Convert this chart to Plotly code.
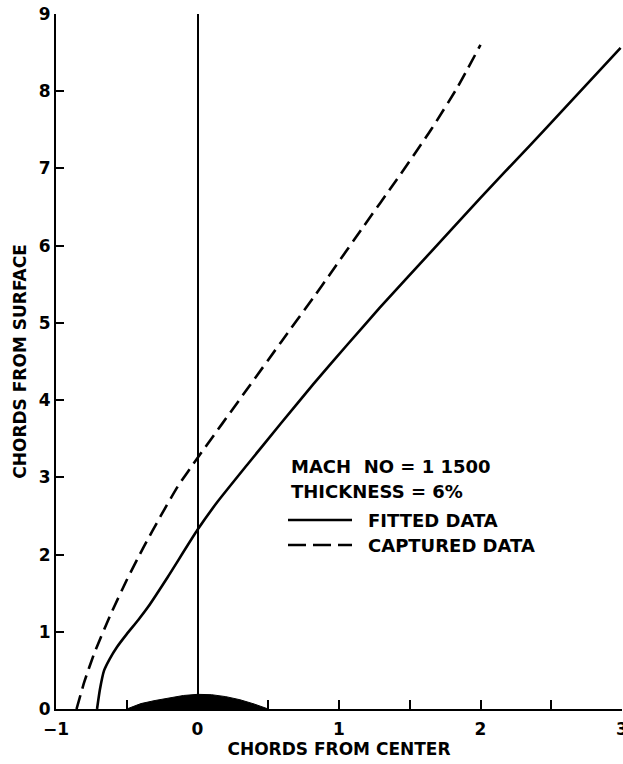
import plotly.graph_objects as go

# Fitted data (solid)
fitted_x = [-0.71, -0.69, -0.66, -0.62, -0.57, -0.50, -0.42, -0.35, -0.21, 0.0, 0.14,
            0.35, 0.59, 0.82, 1.06, 1.29, 1.65, 2.0, 2.35, 2.59, 2.99]
fitted_y = [0.0, 0.25, 0.50, 0.65, 0.80, 0.97, 1.15, 1.32, 1.71, 2.32, 2.68,
            3.16, 3.70, 4.21, 4.72, 5.20, 5.92, 6.62, 7.30, 7.77, 8.56]

# Captured data (dashed)
captured_x = [-0.855, -0.80, -0.73, -0.61, -0.50, -0.38, -0.26, -0.14, 0.0, 0.35, 0.59,
              0.82, 0.94, 1.17, 1.41, 1.65, 1.84, 2.0]
captured_y = [0.0, 0.35, 0.72, 1.24, 1.67, 2.10, 2.50, 2.88, 3.25, 4.14, 4.75,
              5.33, 5.64, 6.24, 6.86, 7.50, 8.06, 8.60]

# Airfoil profile
airfoil_x = [-0.5, -0.45, -0.4, -0.3, -0.2, -0.1, 0.0, 0.1, 0.2, 0.3, 0.4, 0.5]
airfoil_y = [0.0, 0.04, 0.07, 0.11, 0.145, 0.175, 0.19, 0.185, 0.16, 0.12, 0.065, 0.0]

x_tickvals = [-1, -0.5, 0, 0.5, 1, 1.5, 2, 2.5, 3]
x_ticktext = ["\u22121", "", "0", "", "1", "", "2", "", "3"]
y_tickvals = [0, 1, 2, 3, 4, 5, 6, 7, 8, 9]

legend_title = ["MACH\u00a0\u00a0NO = 1 1500", "THICKNESS = 6%"]
series_names = ["FITTED DATA", "CAPTURED DATA"]

FONT = "DejaVu Sans"
DASH = "14px,7px"

fig = go.Figure()
fig.add_trace(go.Scatter(x=airfoil_x, y=airfoil_y, mode="lines", fill="tozeroy",
                         fillcolor="black", line=dict(color="black", width=1),
                         showlegend=False, hoverinfo="skip"))
fig.add_trace(go.Scatter(x=fitted_x, y=fitted_y, mode="lines", name=series_names[0],
                         line=dict(color="black", width=2.6, shape="spline", smoothing=0.5),
                         showlegend=False))
fig.add_trace(go.Scatter(x=captured_x, y=captured_y, mode="lines", name=series_names[1],
                         line=dict(color="black", width=2.6, dash=DASH, shape="spline", smoothing=0.5),
                         showlegend=False))

# Body margin is removed by post_script, so the figure sits at (0, 0).
L, T = 56, 14
PW, PH = 566, 695
W, H = 623, 764
B = H - T - PH
R = W - L - PW

def px(xp):  # page pixel x -> paper fraction
    return (xp - L) / PW
def py(yp):  # page pixel y -> paper fraction
    return (T + PH - yp) / PH

annots = []
for i, txt in enumerate(legend_title):
    annots.append(dict(x=px(289), y=py(466 + 25 * i), xref="paper", yref="paper",
                       text="<b>%s</b>" % txt, showarrow=False, xanchor="left", yanchor="middle",
                       font=dict(family=FONT, size=18, color="black")))
shapes = []
for i, nm in enumerate(series_names):
    yy = py(520 + 25 * i)
    annots.append(dict(x=px(366), y=yy, xref="paper", yref="paper",
                       text="<b>%s</b>" % nm, showarrow=False, xanchor="left", yanchor="middle",
                       font=dict(family=FONT, size=18, color="black")))
    shapes.append(dict(type="line", xref="paper", yref="paper", x0=px(288), x1=px(352),
                       y0=yy, y1=yy,
                       line=dict(color="black", width=2.6, dash="solid" if i == 0 else "18px,7px")))

fig.update_layout(
    width=W, height=H,
    margin=dict(l=L, r=R, t=T, b=B, pad=0),
    paper_bgcolor="white", plot_bgcolor="white",
    showlegend=False,
    annotations=annots, shapes=shapes,
    font=dict(family=FONT, color="black"),
)
fig.update_xaxes(range=[-1, 3], tickvals=x_tickvals, ticktext=x_ticktext, automargin=False,
                 ticks="inside", ticklen=9, tickwidth=2, tickcolor="black",
                 ticklabeloverflow="allow", ticklabelstandoff=4,
                 showline=True, linecolor="black", linewidth=2,
                 showgrid=False, zeroline=True, zerolinecolor="black", zerolinewidth=1.6,
                 tickfont=dict(family=FONT, size=17, color="black", weight="bold"),
                 title=dict(text="<b>CHORDS FROM CENTER</b>", standoff=4,
                            font=dict(family=FONT, size=17, color="black")))
fig.update_yaxes(range=[0, 9], tickvals=y_tickvals, automargin=False,
                 ticks="inside", ticklen=8, tickwidth=2, tickcolor="black",
                 ticklabeloverflow="allow",
                 showline=True, linecolor="black", linewidth=2.2,
                 showgrid=False, zeroline=False,
                 tickfont=dict(family=FONT, size=17, color="black", weight="bold"),
                 title=dict(text="<b>CHORDS FROM SURFACE</b>", standoff=8,
                            font=dict(family=FONT, size=17, color="black")))

fig.write_html("out.html", config={"displayModeBar": False},
               post_script="document.body.style.margin='0';document.body.style.overflow='hidden';")
